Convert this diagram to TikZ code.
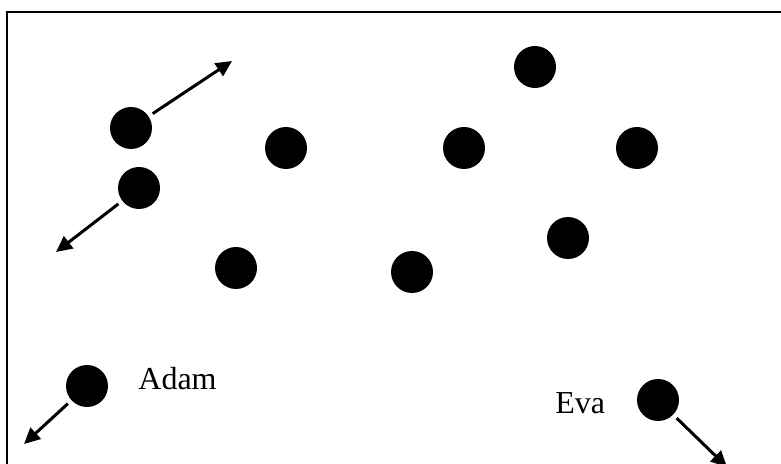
\documentclass[tikz,border=0pt]{standalone}
\usepackage{fontspec}
\setmainfont{Liberation Serif}
\usetikzlibrary{arrows.meta}
\tikzset{
  dot/.style={
    circle, fill=black, draw=none, minimum size=21pt,
    inner sep=0pt, outer sep=2.5pt
  },
  arr/.style={-{Triangle[length=8pt,width=7.5pt]}, line width=1.5pt},
  lbl/.style={font=\fontsize{16}{19}\selectfont, inner sep=0pt}
}

\begin{document}
\begin{tikzpicture}[x=0.5pt, y=-0.5pt]
        \useasboundingbox (0,0) rectangle (781,464);
        % Rahmen
        \draw[line width=1pt] (7,464) -- (7,12) -- (781,12);
        % Teilchen ohne Pfeil
        \foreach \n/\x/\y in {p3/286/148, p4/464/148, p5/535/67,
                              p6/637/148, p7/236/268, p8/412/272,
                              p9/568/238}{%
          \node[dot] (\n) at (\x,\y) {};}
        % Teilchen mit Pfeil
        \node[dot] (p1) at (131,128) {};
        \coordinate (t1) at (232,61);
        \draw[arr] (p1) -- (t1);
        \node[dot] (p2) at (139,188) {};
        \coordinate (t2) at (56,252);
        \draw[arr] (p2) -- (t2);
        % Adam
        \node[dot] (adam) at (87,386) {};
        \node[lbl, anchor=base west] (adamlbl) at (138,389) {Adam};
        \coordinate (tadam) at (24,444);
        \draw[arr] (adam) -- (tadam);
        % Eva
        \node[dot] (eva) at (658,400) {};
        \node[lbl, anchor=base west] (evalbl) at (555,413) {Eva};
        \coordinate (teva) at (727,467);
        \draw[arr] (eva) -- (teva);
      \end{tikzpicture}
\end{document}
